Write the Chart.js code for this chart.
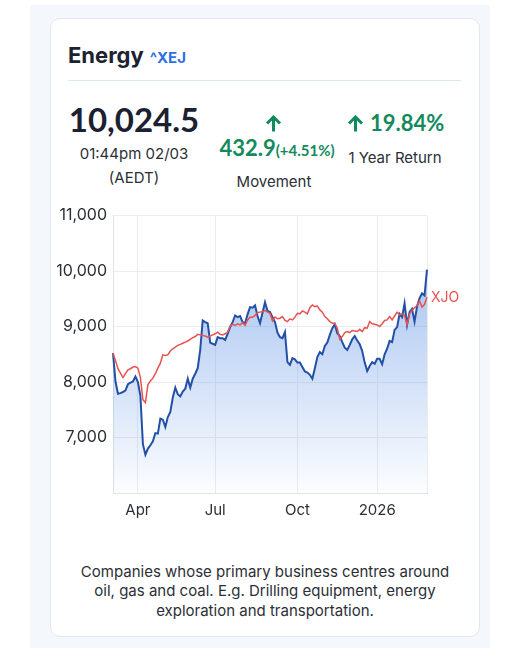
<!DOCTYPE html>
<html>
<head>
<meta charset="utf-8">
<script src="https://cdn.jsdelivr.net/npm/chart.js@4.4.1/dist/chart.umd.min.js"></script>
<style>
    body { margin: 0; background: #fff; font-family: "Inter", sans-serif; color: #2b2f36; }
    .abs { position: absolute; white-space: nowrap; }
    .backdrop { position: absolute; left: 30px; top: 5px; width: 460px; height: 643px; background: #f4f7fb; }
    .card { position: absolute; left: 50px; top: 18px; width: 428px; height: 617px; background: #fff;
            border: 1px solid #e1e8f0; border-radius: 10px; }
    .title { left: 68px; top: 44px; font-size: 22px; line-height: 22px; font-weight: 700; color: #1c2230; }
    .title span { font-size: 15px; color: #2f6fe0; margin-left: 6px; }
    .divider { position: absolute; left: 68px; top: 80px; width: 393px; height: 1px; background: #dbe7f3; }
    .price { left: 64px; width: 140px; top: 103px; text-align: center; font-family: "Lato"; font-weight: 700;
             font-size: 33px; line-height: 33px; color: #1b2130; }
    .small { font-size: 15px; line-height: 15px; text-align: center; }
    .green { color: #138a5e; font-family: "Lato"; font-weight: 700; }
    .desc { left: 50px; width: 430px; top: 562px; text-align: center; font-size: 15px; line-height: 19.4px; }
</style>
</head>
<body>
<div class="backdrop"></div>
<div class="card"></div>

<div class="abs title">Energy<span>^XEJ</span></div>
<div class="divider"></div>

<div class="abs price">10,024.5</div>
<div class="abs small" style="left:64px; width:140px; top:146px;">01:44pm 02/03</div>
<div class="abs small" style="left:64px; width:140px; top:170px;">(AEDT)</div>

<svg class="abs" style="left:265px; top:115px;" width="17" height="17" viewBox="0 0 17 17">
    <path d="M8.5 16.5 V2 M2 8.5 L8.5 2 L15 8.5" fill="none" stroke="#138a5e" stroke-width="3" stroke-linecap="butt"/>
</svg>
<div class="abs green" style="left:197px; width:160px; top:136.5px; text-align:center; font-size:22px; line-height:22px;">432.9<span style="font-size:15px;">(+4.51%)</span></div>
<div class="abs small" style="left:214px; width:120px; top:174px;">Movement</div>

<svg class="abs" style="left:347px; top:115px;" width="17" height="17" viewBox="0 0 17 17">
    <path d="M8.5 16.5 V2 M2 8.5 L8.5 2 L15 8.5" fill="none" stroke="#138a5e" stroke-width="3" stroke-linecap="butt"/>
</svg>
<div class="abs green" style="left:370px; top:112px; font-size:22px; line-height:22px;">19.84%</div>
<div class="abs small" style="left:335px; width:120px; top:150px;">1 Year Return</div>

<canvas id="chart" width="430" height="325" style="position:absolute; left:50px; top:200px;"></canvas>

<div class="abs desc">Companies whose primary business centres around<br>oil, gas and coal. E.g. Drilling equipment, energy<br>exploration and transportation.</div>

<script>
// =====================
// DATA (every 2nd trading day, Mar 2025 - Mar 2026)
// =====================
const tickLabels = ["Apr", "Jul", "Oct", "2026"];
const tickIndex = [10, 41, 74, 106];

const xejValues = [
    8520, 8010, 7790, 7800, 7820, 7850, 7960, 7990, 8010, 8100,
    8000, 7750, 6880, 6690, 6800, 6860, 6930, 7080, 7070, 7340,
    7320, 7190, 7370, 7460, 7720, 7900, 7780, 7740, 7830, 7880,
    8060, 7900, 8060, 8150, 8250, 8580, 9110, 9080, 9060, 8710,
    8690, 8670, 8810, 8790, 8790, 8760, 8870, 8990, 9080, 9200,
    9170, 9190, 9080, 9060, 9220, 9350, 9340, 9380, 9190, 9060,
    9250, 9440, 9280, 9260, 9170, 9080, 8890, 8810, 8790, 8900,
    8360, 8310, 8430, 8410, 8350, 8350, 8270, 8190, 8170, 8130,
    8060, 8250, 8450, 8540, 8500, 8650, 8710, 8850, 8970, 9040,
    8880, 8830, 8720, 8620, 8580, 8670, 8770, 8830, 8750, 8680,
    8560, 8350, 8200, 8290, 8360, 8330, 8420, 8420, 8320, 8500,
    8600, 8740, 8720, 8940, 8990, 9230, 9170, 9420, 9030, 9260,
    9320, 9090, 9360, 9510, 9600, 9560, 10024.5
];

const xjoValues = [
    8520, 8390, 8240, 8160, 8080, 8150, 8220, 8240, 8270, 8280,
    8250, 8080, 7680, 7630, 7950, 8020, 8070, 8150, 8250, 8340,
    8490, 8480, 8490, 8560, 8600, 8630, 8660, 8680, 8700, 8720,
    8740, 8770, 8800, 8820, 8860, 8850, 8840, 8830, 8810, 8830,
    8850, 8870, 8900, 8860, 8850, 8870, 8900, 9010, 9040, 9020,
    9050, 9030, 9070, 9020, 9120, 9170, 9170, 9200, 9250, 9260,
    9270, 9290, 9260, 9240, 9100, 9170, 9140, 9150, 9180, 9110,
    9090, 9140, 9120, 9170, 9240, 9230, 9280, 9260, 9230, 9340,
    9390, 9360, 9370, 9300, 9260, 9180, 9140, 9090, 9060, 9060,
    8970, 8770, 8820, 8890, 8910, 8890, 8930, 8920, 8910, 8950,
    8910, 8980, 8970, 9090, 9050, 9040, 9030, 9000, 9050, 9110,
    9120, 9180, 9120, 9190, 9260, 9210, 9230, 9200, 9030, 9230,
    9290, 9340, 9380, 9460, 9350, 9400, 9530
];

// category labels: only the quarter starts carry text
const labels = xejValues.map((v, i) => {
    const k = tickIndex.indexOf(i);
    return k >= 0 ? tickLabels[k] : "";
});
const lastIndex = xejValues.length - 1;

// =====================
// XJO LABEL AT LINE END
// =====================
const xjoLabel = {
    id: "xjoLabel",
    afterDatasetsDraw(chart) {
        const meta = chart.getDatasetMeta(1);
        const pt = meta.data[meta.data.length - 1];
        const ctx = chart.ctx;
        ctx.save();
        ctx.font = "14px Inter";
        ctx.fillStyle = "#e8534f";
        ctx.textBaseline = "middle";
        ctx.fillText("XJO", pt.x + 4, pt.y + 1);
        ctx.restore();
    }
};

// =====================
// CHART
// =====================
new Chart(document.getElementById("chart"), {
    type: "line",
    data: {
        labels: labels,
        datasets: [{
            label: "XEJ",
            data: xejValues,
            borderColor: "#2250a6",
            borderWidth: 2,
            pointRadius: 0,
            tension: 0,
            fill: "start",
            order: 1,
            backgroundColor: (context) => {
                const area = context.chart.chartArea;
                if (!area) return null;
                const g = context.chart.ctx.createLinearGradient(0, area.top, 0, area.bottom);
                g.addColorStop(0, "rgba(100,150,230,0.68)");
                g.addColorStop(1, "rgba(100,150,230,0.02)");
                return g;
            }
        }, {
            label: "XJO",
            data: xjoValues,
            borderColor: "#e8534f",
            borderWidth: 1.5,
            pointRadius: 0,
            tension: 0,
            fill: false,
            order: 0
        }]
    },
    options: {
        responsive: false,
        animation: false,
        devicePixelRatio: 1,
        layout: { padding: { top: 12, right: 53, left: 0, bottom: 0 } },
        plugins: {
            legend: { display: false },
            tooltip: { enabled: false }
        },
        scales: {
            x: {
                grid: {
                    drawTicks: false,
                    color: (ctx) => (tickIndex.includes(ctx.index) || ctx.index === lastIndex) ? "#ececec" : "rgba(0,0,0,0)"
                },
                border: { color: "#e2e2e2" },
                ticks: {
                    autoSkip: false,
                    maxRotation: 0,
                    padding: 8,
                    color: "#2b2f36",
                    font: { family: "Inter", size: 15 },
                    callback: (v, i) => labels[i]
                },
                afterFit: (scale) => { scale.height = 32; }
            },
            y: {
                min: 6000,
                max: 11000,
                grid: { drawTicks: false, color: "#ececec" },
                border: { color: "#e2e2e2" },
                ticks: {
                    stepSize: 1000,
                    padding: 6,
                    color: "#2b2f36",
                    font: { family: "Inter", size: 16 },
                    callback: (v) => v === 6000 ? "" : v.toLocaleString("en-US")
                },
                afterFit: (scale) => { scale.width = 63; }
            }
        }
    },
    plugins: [xjoLabel]
});
</script>
</body>
</html>
